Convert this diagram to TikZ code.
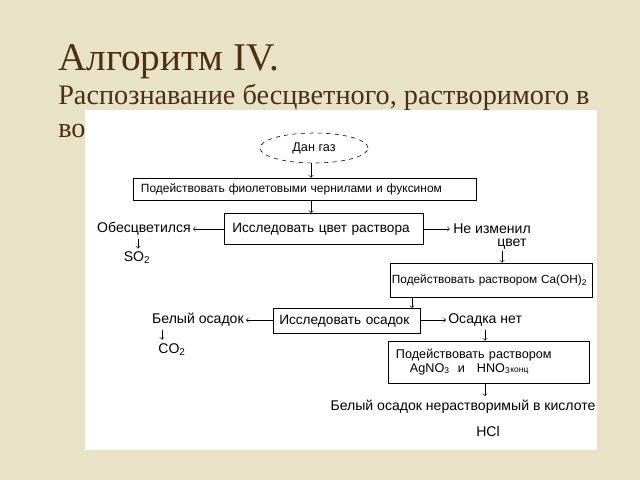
\documentclass[tikz,border=0pt]{standalone}
\usepackage{fontspec}
\setmainfont{Liberation Serif}
\newfontfamily\diagfont{Liberation Sans}
\usetikzlibrary{shapes.geometric}
\definecolor{bgbeige}{RGB}{232,226,198}
\definecolor{titlebrown}{RGB}{78,46,22}
\tikzset{
  x=0.025cm, y=-0.025cm,
  lbl/.style={font=\diagfont\fontsize{10pt}{11pt}\selectfont, inner sep=0pt},
  stepbox/.style={draw, thin, rectangle, fill=white, inner ysep=0pt, inner xsep=0.2cm,
    font=\diagfont\fontsize{9pt}{10.5pt}\selectfont, align=left},
  conn/.style={->, thin, >=to},
}
\begin{document}
\begin{tikzpicture}
\useasboundingbox (0,0) rectangle (640,480);
\fill[bgbeige] (0,0) rectangle (640,480);
% title
\node[anchor=base west, inner sep=0pt, text=titlebrown, font=\fontsize{27.9pt}{30pt}\selectfont] (t1) at (58,70) {Алгоритм IV.};
\node[anchor=base west, inner sep=0pt, text=titlebrown, font=\fontsize{20.1pt}{24pt}\selectfont] (t2) at (58,104) {Распознавание бесцветного, растворимого в};
\node[anchor=base west, inner sep=0pt, text=titlebrown, font=\fontsize{20.1pt}{24pt}\selectfont] (t3) at (58,137) {во,};
% white panel
\fill[white] (85,110) rectangle (597,450);
% ellipse
\node[draw, dashed, ellipse, minimum width=2.7cm, minimum height=0.75cm, inner sep=0pt,
  font=\diagfont\fontsize{9pt}{10.5pt}\selectfont] (ell) at (314,148) {Дан газ};
% boxes
\node[stepbox, minimum width=8.575cm, minimum height=0.55cm, text width=8.175cm,
  font=\diagfont\fontsize{8.5pt}{10pt}\selectfont] (b1) at (304.5,189)
  {Подействовать фиолетовыми чернилами и фуксином};
\node[stepbox, minimum width=4.975cm, minimum height=0.775cm, text width=4.575cm, anchor=north west, inner ysep=0.1cm,
  font=\diagfont\fontsize{9.7pt}{11pt}\selectfont] (b2) at (224,213)
  {Исследовать цвет раствора};
\node[stepbox, minimum width=5.05cm, minimum height=0.85cm, text width=4.95cm, inner xsep=0.05cm,
  font=\diagfont\fontsize{8.4pt}{10pt}\selectfont] (b3) at (491,280)
  {Подействовать раствором Ca(OH)\textsubscript{2}};
\node[stepbox, minimum width=3.675cm, minimum height=0.625cm, text width=3.375cm, anchor=north west, inner ysep=0.08cm, inner xsep=0.15cm,
  font=\diagfont\fontsize{9.7pt}{11pt}\selectfont] (b4) at (273,308)
  {Исследовать осадок};
\node[stepbox, minimum width=4.925cm, minimum height=1.05cm, text width=4.625cm] (b5) at (488.5,362)
  {Подействовать раствором\\[-1pt]
   \hspace*{0.35cm}AgNO\textsubscript{3}\hspace{0.2cm}и\hspace{0.3cm}HNO\textsubscript{3}{\fontsize{6pt}{7pt}\selectfont конц}};
% side labels
\node[lbl, anchor=east] (obes) at (191,229) {Обесцветился};
\node[lbl] (so2) at (137,258) {SO\textsubscript{2}};
\node[lbl, anchor=west] (neizm) at (453,229) {Не изменил};
\node[lbl, anchor=west] (cvet) at (497,244) {цвет};
\node[lbl, anchor=east] (bel) at (244,320) {Белый осадок};
\node[lbl] (co2) at (172,350) {CO\textsubscript{2}};
\node[lbl, anchor=west] (osnet) at (448,320) {Осадка нет};
\node[lbl] (res) at (463,407) {Белый осадок нерастворимый в кислоте};
\node[lbl] (hcl) at (488,431) {HCl};
% helper coordinates
\coordinate (x311) at (311,0);
\coordinate (x138) at (138,0);
\coordinate (x502) at (502,0);
\coordinate (x412) at (412,0);
\coordinate (x162) at (162,0);
\coordinate (x485) at (485,0);
% connectors
\draw[conn] (x311 |- ell.south) -- (x311 |- b1.north);
\draw[conn] (x311 |- b1.south) -- (x311 |- b2.north);
\draw[conn] (b2.west |- obes.east) -- ([xshift=0.05cm]obes.east);
\draw[conn] (x138 |- obes.south) ++(0,3) -- ([yshift=0.08cm]x138 |- so2.north);
\draw[conn] (b2.east |- neizm.west) -- ([xshift=-0.08cm]neizm.west);
\draw[conn] (x502 |- cvet.south) ++(0,2) -- (x502 |- b3.north);
\draw[conn] (x412 |- b3.south) -- (x412 |- b4.north);
\draw[conn] (b4.west |- bel.east) -- ([xshift=0.05cm]bel.east);
\draw[conn] (x162 |- bel.south) ++(0,3) -- ([yshift=0.1cm]x162 |- co2.north);
\draw[conn] (b4.east |- osnet.west) -- ([xshift=-0.05cm]osnet.west);
\draw[conn] (x485 |- osnet.south) ++(0,3) -- (x485 |- b5.north);
\draw[conn] (x485 |- b5.south) -- ([yshift=0.1cm]x485 |- res.north);
\end{tikzpicture}
\end{document}
